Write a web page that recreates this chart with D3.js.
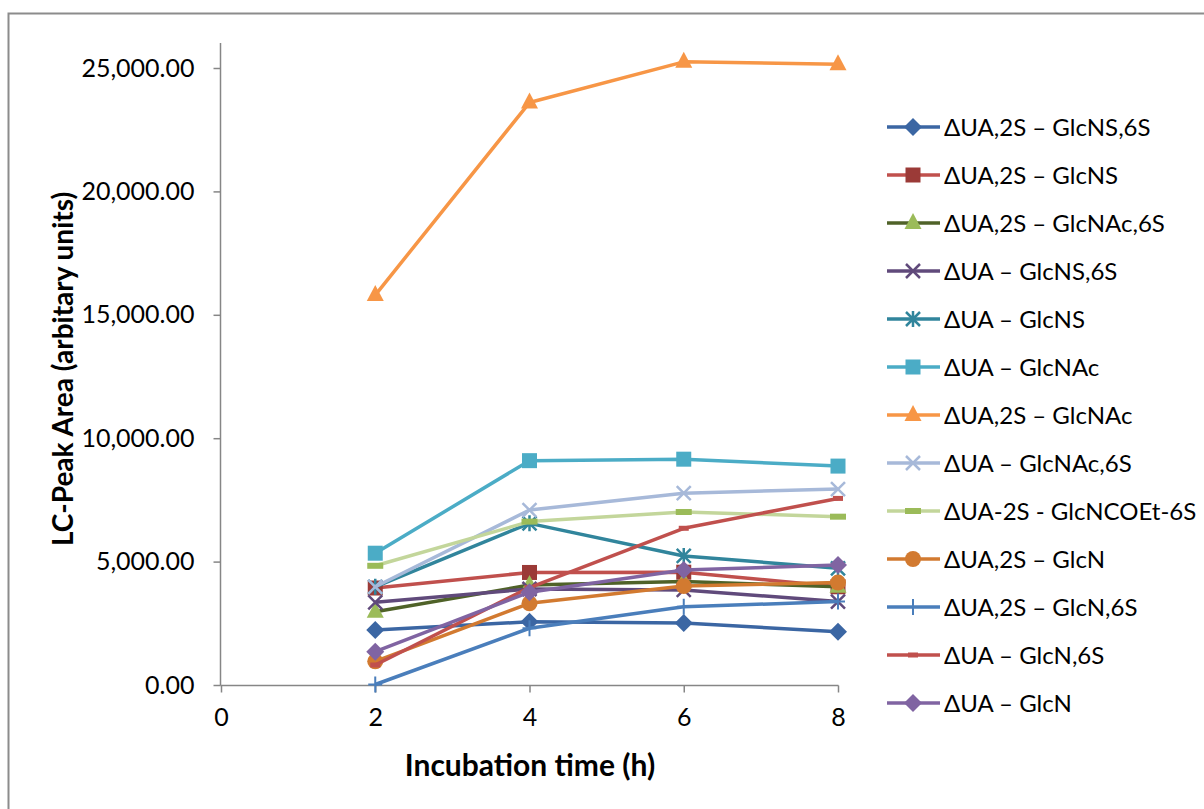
<!DOCTYPE html>
<html>
<head>
<meta charset="utf-8">
<script src="https://cdn.jsdelivr.net/npm/d3@7"></script>
<style>
  body { margin: 0; background: #fff; }
  text { font-family: Lato, "Open Sans", sans-serif; fill: #000; }
</style>
</head>
<body>
<div id="chart"></div>
<script>
// incubation times (h)
var times = [2, 4, 6, 8];

// series names, in legend order
var names = [
  "ΔUA,2S – GlcNS,6S",
  "ΔUA,2S – GlcNS",
  "ΔUA,2S – GlcNAc,6S",
  "ΔUA – GlcNS,6S",
  "ΔUA – GlcNS",
  "ΔUA – GlcNAc",
  "ΔUA,2S – GlcNAc",
  "ΔUA – GlcNAc,6S",
  "ΔUA-2S - GlcNCOEt-6S",
  "ΔUA,2S – GlcN",
  "ΔUA,2S – GlcN,6S",
  "ΔUA – GlcN,6S",
  "ΔUA – GlcN"
];

// LC peak areas
var uaS2_glcNS6S   = [2230, 2560, 2510, 2160];
var uaS2_glcNS     = [3930, 4560, 4570, 3980];
var uaS2_glcNAc6S  = [2970, 4050, 4190, 3980];
var ua_glcNS6S     = [3350, 3890, 3850, 3380];
var ua_glcNS       = [3980, 6550, 5230, 4730];
var ua_glcNAc      = [5340, 9090, 9150, 8870];
var uaS2_glcNAc    = [15800, 23600, 25250, 25150];
var ua_glcNAc6S    = [3980, 7090, 7770, 7940];
var uaS2_glcNCOEt  = [4830, 6620, 7010, 6820];
var uaS2_glcN      = [960, 3310, 4010, 4150];
var uaS2_glcN6S    = [20, 2300, 3170, 3380];
var ua_glcN6S      = [810, 3950, 6350, 7560];
var ua_glcN        = [1350, 3760, 4660, 4860];

var values = [uaS2_glcNS6S, uaS2_glcNS, uaS2_glcNAc6S, ua_glcNS6S, ua_glcNS,
  ua_glcNAc, uaS2_glcNAc, ua_glcNAc6S, uaS2_glcNCOEt, uaS2_glcN, uaS2_glcN6S,
  ua_glcN6S, ua_glcN];

var xTicks = [0, 2, 4, 6, 8];
var yTicks = [0, 5000, 10000, 15000, 20000, 25000];

// style per series: line colour, marker colour, marker shape
var lineColors   = ["#3b66a3", "#c0504d", "#4f6228", "#604a7b", "#31859c", "#4bacc6",
  "#f79646", "#a7b9d9", "#c3d69b", "#d27a30", "#4a7ebb", "#c0504d", "#8064a2"];
var markerColors = ["#3b66a3", "#9b3a37", "#9bbb59", "#604a7b", "#31859c", "#4bacc6",
  "#f79646", "#a7b9d9", "#9bbb59", "#d27a30", "#4a7ebb", "#c0504d", "#8064a2"];
var shapes = ["diamond", "square", "triangle", "x", "asterisk", "square",
  "triangle", "x", "dash", "circle", "plus", "dashSmall", "diamond"];

var W = 1204, H = 809;
var svg = d3.select("#chart").append("svg")
    .attr("width", W)
    .attr("height", H);

// outer chart frame (runs off right and bottom)
svg.append("rect")
    .attr("x", 8.5).attr("y", 13.5)
    .attr("width", W + 20).attr("height", H + 20)
    .attr("fill", "none")
    .attr("stroke", "#8c8c8c")
    .attr("stroke-width", 2);

var x = d3.scaleLinear().domain([0, 8]).range([221, 838]);
var y = d3.scaleLinear().domain([0, 25000]).range([685, 68]);

// y axis
var yAxis = svg.append("g")
    .attr("transform", "translate(220.5,0)")
    .call(d3.axisLeft(y).tickValues(yTicks).tickSize(7).tickPadding(19)
      .tickFormat(d3.format(",.2f")));
yAxis.select(".domain").attr("d", "M0,43V685.5");
yAxis.selectAll("line, path").attr("stroke", "#868686").attr("stroke-width", 1.5);
yAxis.selectAll("text").attr("font-size", 25).attr("font-family", "Lato");

// x axis
var xAxis = svg.append("g")
    .attr("transform", "translate(0,685.5)")
    .call(d3.axisBottom(x).tickValues(xTicks).tickSize(7).tickPadding(16));
xAxis.select(".domain").attr("d", "M220.5,0H838.5");
xAxis.selectAll("line, path").attr("stroke", "#868686").attr("stroke-width", 1.5);
xAxis.selectAll("text").attr("font-size", 25).attr("font-family", "Lato");

// axis titles
svg.append("text")
    .attr("x", 530).attr("y", 776)
    .attr("text-anchor", "middle")
    .attr("font-size", 30).attr("font-weight", "bold")
    .text("Incubation time (h)");

svg.append("text")
    .attr("transform", "translate(73,369) rotate(-90)")
    .attr("text-anchor", "middle")
    .attr("font-size", 28).attr("font-weight", "bold")
    .text("LC-Peak Area (arbitary units)");

function drawMarker(g, shape, color) {
  if (shape === "diamond") {
    g.append("path").attr("d", "M0,-9L9,0L0,9L-9,0Z").attr("fill", color);
  } else if (shape === "square") {
    g.append("rect").attr("x", -7.5).attr("y", -7.5).attr("width", 15).attr("height", 15).attr("fill", color);
  } else if (shape === "triangle") {
    g.append("path").attr("d", "M0,-10L8.5,6L-8.5,6Z").attr("fill", color);
  } else if (shape === "circle") {
    g.append("circle").attr("r", 8).attr("fill", color);
  } else if (shape === "x") {
    g.append("path").attr("d", "M-7,-7L7,7M-7,7L7,-7").attr("stroke", color).attr("stroke-width", 2.5);
  } else if (shape === "asterisk") {
    g.append("path").attr("d", "M-7,-7L7,7M-7,7L7,-7M0,-8V8").attr("stroke", color).attr("stroke-width", 2.5);
  } else if (shape === "plus") {
    g.append("path").attr("d", "M-7,0H7M0,-8V8").attr("stroke", color).attr("stroke-width", 2);
  } else if (shape === "dash") {
    g.append("rect").attr("x", -8).attr("y", -3).attr("width", 16).attr("height", 6).attr("fill", color);
  } else if (shape === "dashSmall") {
    g.append("rect").attr("x", -5).attr("y", -2.5).attr("width", 10).attr("height", 5).attr("fill", color);
  }
}

var line = d3.line()
    .x(function(d, i) { return x(times[i]); })
    .y(function(d) { return y(d); });

// series lines
values.forEach(function(vals, s) {
  svg.append("path")
      .datum(vals)
      .attr("fill", "none")
      .attr("stroke", lineColors[s])
      .attr("stroke-width", 3.5)
      .attr("stroke-linejoin", "round")
      .attr("d", line);
  vals.forEach(function(v, i) {
    var g = svg.append("g").attr("transform", "translate(" + x(times[i]) + "," + y(v) + ")");
    drawMarker(g, shapes[s], markerColors[s]);
  });
});

// legend
var legend = svg.append("g");
names.forEach(function(name, s) {
  var ly = 127 + s * 48;
  legend.append("line")
      .attr("x1", 887).attr("x2", 940)
      .attr("y1", ly).attr("y2", ly)
      .attr("stroke", lineColors[s])
      .attr("stroke-width", 3.5);
  var g = legend.append("g").attr("transform", "translate(913," + ly + ")");
  drawMarker(g, shapes[s], markerColors[s]);
  legend.append("text")
      .attr("x", 944).attr("y", ly)
      .attr("dy", "0.36em")
      .attr("font-size", 24)
      .text(name);
});
</script>
</body>
</html>
